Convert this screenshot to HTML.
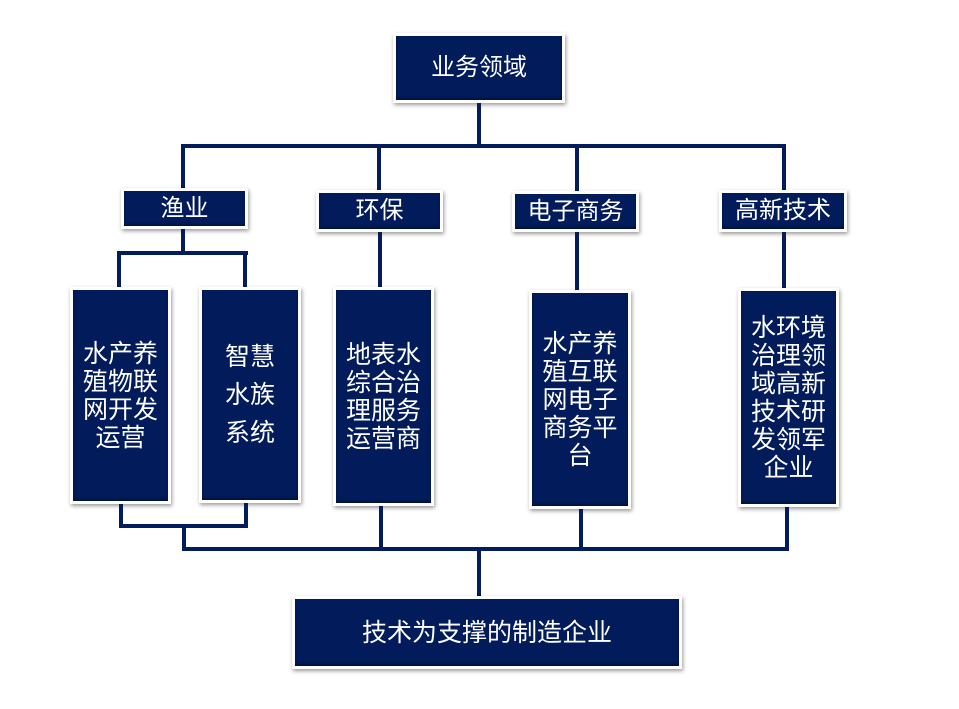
<!DOCTYPE html>
<html>
<head>
<meta charset="utf-8">
<style>
html,body{margin:0;padding:0;background:#fff;}
body{width:959px;height:709px;position:relative;overflow:hidden;font-family:"Liberation Sans","Noto Sans CJK SC",sans-serif;}
.b{position:absolute;box-sizing:border-box;background:#011b5b;border:3px solid #fff;box-shadow:1px 2px 4px rgba(0,0,0,0.4), inset 0 -2px 2px rgba(0,0,0,0.35);color:#fff;display:flex;align-items:center;justify-content:center;text-align:center;}
.l{position:absolute;background:#031d5c;}
.t2{font-size:24px;line-height:28px;}
.t3{font-size:25px;line-height:28px;}
</style>
</head>
<body>
<!-- top box -->
<div class="b t2" style="left:393px;top:33px;width:172px;height:70px;">业务领域</div>

<!-- top connectors -->
<div class="l" style="left:477px;top:103px;width:4px;height:43px;"></div>
<div class="l" style="left:181px;top:144px;width:605px;height:4px;"></div>
<div class="l" style="left:181px;top:146px;width:4px;height:42px;"></div>
<div class="l" style="left:377px;top:146px;width:4px;height:44px;"></div>
<div class="l" style="left:575px;top:146px;width:4px;height:45px;"></div>
<div class="l" style="left:782px;top:146px;width:4px;height:44px;"></div>

<!-- level 2 -->
<div class="b t2" style="left:121px;top:188px;width:127px;height:41px;">渔业</div>
<div class="b t2" style="left:316px;top:190px;width:127px;height:42px;">环保</div>
<div class="b t2" style="left:512px;top:191px;width:127px;height:41px;">电子商务</div>
<div class="b t2" style="left:719px;top:190px;width:128px;height:42px;">高新技术</div>

<!-- level 2 to level 3 connectors -->
<div class="l" style="left:181px;top:229px;width:4px;height:24px;"></div>
<div class="l" style="left:117px;top:251px;width:131px;height:4px;"></div>
<div class="l" style="left:117px;top:251px;width:4px;height:36px;"></div>
<div class="l" style="left:243px;top:251px;width:4px;height:36px;"></div>
<div class="l" style="left:378px;top:232px;width:4px;height:55px;"></div>
<div class="l" style="left:575px;top:232px;width:4px;height:58px;"></div>
<div class="l" style="left:782px;top:232px;width:4px;height:56px;"></div>

<!-- level 3 -->
<div class="b t3" style="left:70px;top:287px;width:101px;height:217px;">水产养<br>殖物联<br>网开发<br>运营</div>
<div class="b t3" style="left:199px;top:287px;width:102px;height:216px;line-height:38px;">智慧<br>水族<br>系统</div>
<div class="b t3" style="left:333px;top:287px;width:101px;height:219px;">地表水<br>综合治<br>理服务<br>运营商</div>
<div class="b t3" style="left:529px;top:290px;width:102px;height:219px;">水产养<br>殖互联<br>网电子<br>商务平<br>台</div>
<div class="b t3" style="left:738px;top:288px;width:101px;height:219px;">水环境<br>治理领<br>域高新<br>技术研<br>发领军<br>企业</div>

<!-- bottom connectors -->
<div class="l" style="left:119px;top:504px;width:4px;height:24px;"></div>
<div class="l" style="left:244px;top:503px;width:4px;height:25px;"></div>
<div class="l" style="left:119px;top:524px;width:129px;height:4px;"></div>
<div class="l" style="left:182px;top:524px;width:4px;height:27px;"></div>
<div class="l" style="left:182px;top:547px;width:607px;height:4px;"></div>
<div class="l" style="left:379px;top:506px;width:4px;height:43px;"></div>
<div class="l" style="left:579px;top:509px;width:4px;height:40px;"></div>
<div class="l" style="left:785px;top:507px;width:4px;height:44px;"></div>
<div class="l" style="left:477px;top:549px;width:4px;height:48px;"></div>

<!-- bottom box -->
<div class="b" style="left:292px;top:596px;width:390px;height:73px;font-size:25px;line-height:28px;">技术为支撑的制造企业</div>
</body>
</html>
